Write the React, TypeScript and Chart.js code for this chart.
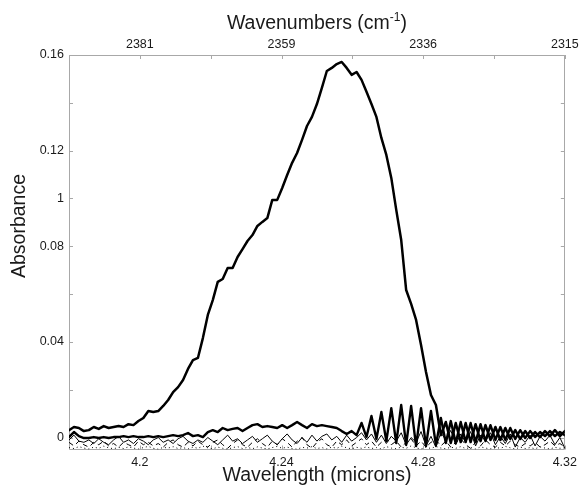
import React, { useEffect, useRef } from "react";
import { Chart, registerables } from "chart.js";

Chart.register(...registerables);

// Wavelength grid (microns)
const wavelength = [
  4.18, 4.1814, 4.1828, 4.1842, 4.1856, 4.187, 4.1884, 4.1898, 4.1912, 4.1926,
  4.194, 4.1954, 4.1968, 4.1982, 4.1996, 4.201, 4.2024, 4.2038, 4.2052, 4.2066,
  4.208, 4.2094, 4.2108, 4.2122, 4.2136, 4.215, 4.2164, 4.2178, 4.2192, 4.2206,
  4.222, 4.2234, 4.2248, 4.2262, 4.2276, 4.229, 4.2304, 4.2318, 4.2332, 4.2346,
  4.236, 4.2374, 4.2388, 4.2402, 4.2416, 4.243, 4.2444, 4.2458, 4.2472, 4.2486,
  4.25, 4.2514, 4.2528, 4.2542, 4.2556, 4.257, 4.2584, 4.2598, 4.2612, 4.2626,
  4.264, 4.2654, 4.2668, 4.2682, 4.2696, 4.271, 4.2724, 4.2738, 4.2752, 4.2766,
  4.278, 4.2794, 4.2808, 4.2822, 4.2836, 4.285, 4.2864, 4.2878, 4.2892, 4.2906,
  4.292, 4.2934, 4.2948, 4.2962, 4.2976, 4.299, 4.3004, 4.3018, 4.3032, 4.3046,
  4.306, 4.3074, 4.3088, 4.3102, 4.3116, 4.313, 4.3144, 4.3158, 4.3172, 4.3186,
  4.32,
];

// Main absorption band (thick)
const peakAbsorbance = [
  0.0031, 0.0044, 0.004, 0.0027, 0.0031, 0.0044, 0.0036, 0.0048, 0.004, 0.0044,
  0.0048, 0.0044, 0.0056, 0.0052, 0.0069, 0.0082, 0.0111, 0.0107, 0.0111, 0.0132,
  0.0157, 0.019, 0.0211, 0.0241, 0.0287, 0.0324, 0.0333, 0.0416, 0.0513, 0.0575,
  0.0651, 0.0663, 0.0709, 0.0709, 0.0755, 0.0788, 0.0822, 0.0847, 0.0885, 0.0902,
  0.0918, 0.0994, 0.0994, 0.1044, 0.1098, 0.1149, 0.119, 0.1245, 0.1303, 0.1341,
  0.1395, 0.1462, 0.1533, 0.1546, 0.1562, 0.1571, 0.1546, 0.1517, 0.1529, 0.1496,
  0.1446, 0.1395, 0.1341, 0.1253, 0.1182, 0.1086, 0.0952, 0.0826, 0.0617, 0.0559,
  0.0492, 0.0387, 0.0274, 0.0178, 0.0136, 0.001, 0.0065, -0.0023, 0.0061, -0.0019,
  0.0061, -0.0019, 0.0056, -0.0015, 0.0052, -0.001, 0.0044, -0.001, 0.004, -0.0006,
  0.0031, -0.0006, 0.0027, -0.0002, 0.0023, 0.0002, 0.0027, 0.0006, 0.0031, 0.0006,
  0.0027,
];

// Thick baseline with line structure
const baselineThick = [
  0.0002, 0.0023, 0.0006, -0.0002, -0.0002, 0.0002, -0.0002, 0.0002, -0.0002, 0.0002,
  0.0002, 0.0006, 0.0002, 0.0006, 0.0002, 0.0002, 0.0006, 0.0002, 0.0006, 0.0002,
  0.0006, 0.001, 0.0006, 0.001, 0.0019, 0.0006, 0.001, 0.0002, 0.0023, 0.0031,
  0.0023, 0.004, 0.0031, 0.0036, 0.004, 0.0027, 0.004, 0.0052, 0.0056, 0.0044,
  0.0048, 0.0044, 0.004, 0.0052, 0.004, 0.0052, 0.0065, 0.0052, 0.004, 0.0056,
  0.0048, 0.0052, 0.0048, 0.0044, 0.004, 0.0027, 0.0015, 0.0027, 0.001, 0.0061,
  0.0002, 0.009, -0.0006, 0.0107, -0.0015, 0.0123, -0.0023, 0.0136, -0.0031, 0.0132,
  -0.0036, 0.0123, -0.0036, 0.0111, -0.0031, 0.0082, -0.0023, 0.0069, -0.0023, 0.0065,
  -0.0019, 0.0061, -0.0019, 0.0056, -0.0015, 0.0052, -0.001, 0.0044, -0.001, 0.004,
  -0.0006, 0.0031, -0.0002, 0.0027, 0.0002, 0.0023, 0.0006, 0.0027, 0.0006, 0.0023,
  0.001,
];

// Thin solid baseline
const baselineThin = [
  -0.001, 0.001, -0.0015, -0.002, -0.001, -0.0025, -0.0005, -0.002, -0.003, -0.001,
  0.0005, -0.002, -0.001, -0.0025, -0.0005, -0.0015, -0.003, -0.001, 0.0, -0.002,
  -0.001, -0.0025, -0.0005, 0.0005, -0.0015, -0.0025, -0.001, -0.002, 0.0, -0.0015,
  -0.003, -0.001, 0.001, -0.0015, -0.0005, -0.0025, -0.001, 0.0005, -0.002, -0.0005,
  0.001, -0.0015, -0.003, -0.0005, 0.0015, -0.001, -0.0025, 0.0, -0.002, 0.001,
  -0.0015, 0.0005, 0.0015, -0.001, 0.0005, -0.002, 0.001, -0.0015, 0.0, 0.002,
  -0.001, 0.0015, -0.002, 0.001, -0.0025, 0.0005, -0.0015, 0.002, -0.003, 0.0,
  -0.002, 0.0025, -0.0035, 0.0005, -0.004, 0.002, -0.001, 0.003, -0.003, 0.0015,
  -0.002, 0.0025, -0.0035, 0.001, -0.0015, 0.002, -0.003, 0.0005, -0.0025, 0.0015,
  -0.004, 0.0, -0.002, 0.001, -0.0035, 0.0005, -0.0015, 0.001, -0.003, 0.0,
  -0.0045,
];

// Thin dashed baseline
const baselineDashed = [
  -0.002, -0.0035, -0.0015, -0.003, -0.004, -0.002, -0.003, -0.0015, -0.0035, -0.0025,
  -0.004, -0.002, -0.003, -0.004, -0.0015, -0.003, -0.002, -0.0035, -0.0025, -0.004,
  -0.002, -0.001, -0.003, -0.004, -0.002, -0.0035, -0.0015, -0.003, -0.004, -0.002,
  -0.001, -0.003, -0.0045, -0.0025, -0.001, -0.003, -0.004, -0.002, -0.0005, -0.0025,
  -0.004, -0.0015, -0.003, -0.0005, -0.002, -0.004, -0.0015, 0.0, -0.003, -0.0045,
  -0.002, -0.0005, -0.003, -0.004, -0.0015, -0.003, -0.001, -0.0035, -0.002, -0.0005,
  -0.003, -0.0015, -0.004, -0.002, -0.0005, -0.003, -0.0015, -0.004, -0.002, -0.0005,
  -0.0035, -0.0015, -0.004, -0.002, -0.001, -0.0035, -0.0015, -0.004, -0.002, -0.0005,
  -0.003, -0.0045, -0.002, -0.0035, -0.001, -0.003, -0.004, -0.002, -0.0035, -0.0015,
  -0.003, -0.004, -0.0025, -0.0035, -0.002, -0.004, -0.003, -0.0015, -0.0035, -0.0025,
  -0.004,
];

// Thin dotted baseline
const baselineDotted = [
  -0.0042, -0.0046, -0.0038, -0.0044, -0.0048, -0.004, -0.0045, -0.0036, -0.0043, -0.0047,
  -0.0041, -0.0046, -0.0039, -0.0044, -0.0048, -0.0042, -0.0037, -0.0045, -0.0049, -0.0041,
  -0.0044, -0.0038, -0.0046, -0.0042, -0.0048, -0.004, -0.0045, -0.0036, -0.0043, -0.0047,
  -0.004, -0.0045, -0.0049, -0.0042, -0.0038, -0.0046, -0.0041, -0.0047, -0.0039, -0.0044,
  -0.0048, -0.0042, -0.0037, -0.0045, -0.004, -0.0046, -0.0049, -0.0041, -0.0044, -0.0038,
  -0.0046, -0.0042, -0.0048, -0.004, -0.0045, -0.0036, -0.0043, -0.0047, -0.0041, -0.0045,
  -0.0039, -0.0046, -0.0042, -0.0048, -0.0038, -0.0044, -0.0047, -0.004, -0.0045, -0.0035,
  -0.0043, -0.0048, -0.004, -0.0046, -0.0037, -0.0044, -0.0047, -0.004, -0.0045, -0.0038,
  -0.0046, -0.0042, -0.0048, -0.0039, -0.0044, -0.0047, -0.0041, -0.0045, -0.0037, -0.0043,
  -0.0048, -0.004, -0.0046, -0.0042, -0.0047, -0.0039, -0.0044, -0.0048, -0.0041, -0.0045,
  -0.0043,
];

// Axes
const xMin = 4.18;
const xMax = 4.32;
const yMin = -0.005;
const yMax = 0.16;
const bottomTicks = [4.2, 4.24, 4.28, 4.32];
const bottomTickLabels = ["4.2", "4.24", "4.28", "4.32"];
const topTickLabels = ["2381", "2359", "2336", "2315"];
const xMinorTicks = [4.22, 4.26, 4.3];
const yTicks = [0, 0.04, 0.08, 0.1, 0.12, 0.16];
const yTickLabels = ["0", "0.04", "0.08", "1", "0.12", "0.16"];
const yMinorTicks = [0.02, 0.06, 0.14];

const FONT = "'Liberation Sans', Arial, Helvetica, sans-serif";
const AXIS_COLOR = "#a8a8a8";
const TEXT_COLOR = "#1a1a1a";

const framePlugin = {
  id: "frame",
  beforeDatasetsDraw(chart: any) {
    const { ctx, chartArea: a, scales } = chart;
    const xs = scales.x;
    const ys = scales.y;
    ctx.save();
    ctx.strokeStyle = AXIS_COLOR;
    ctx.lineWidth = 1;
    ctx.beginPath();
    ctx.rect(Math.round(a.left) + 0.5, Math.round(a.top) + 0.5, Math.round(a.right - a.left) - 1, Math.round(a.bottom - a.top) - 1);
    ctx.stroke();
    const tl = 4;
    ctx.beginPath();
    [...bottomTicks, ...xMinorTicks].forEach((v) => {
      const px = Math.round(xs.getPixelForValue(v)) + 0.5;
      ctx.moveTo(px, a.top);
      ctx.lineTo(px, a.top + tl);
      ctx.moveTo(px, a.bottom);
      ctx.lineTo(px, a.bottom - tl);
    });
    [...yTicks, ...yMinorTicks].forEach((v) => {
      const py = Math.round(ys.getPixelForValue(v)) + 0.5;
      ctx.moveTo(a.left, py);
      ctx.lineTo(a.left + tl, py);
      ctx.moveTo(a.right, py);
      ctx.lineTo(a.right - tl, py);
    });
    ctx.stroke();
    ctx.restore();
  },
  afterDraw(chart: any) {
    const { ctx, chartArea: a } = chart;
    const cx = (a.left + a.right) / 2;
    ctx.save();
    ctx.fillStyle = TEXT_COLOR;
    ctx.textBaseline = "middle";
    const mainFont = `19.5px ${FONT}`;
    const supFont = `12px ${FONT}`;
    const t1 = "Wavenumbers (cm";
    const sup = "-1";
    const t2 = ")";
    ctx.font = mainFont;
    const w1 = ctx.measureText(t1).width;
    const w3 = ctx.measureText(t2).width;
    ctx.font = supFont;
    const w2 = ctx.measureText(sup).width;
    let x = cx - (w1 + w2 + w3) / 2;
    const ty = 24;
    ctx.textAlign = "left";
    ctx.font = mainFont;
    ctx.fillText(t1, x, ty);
    x += w1;
    ctx.font = supFont;
    ctx.fillText(sup, x, ty - 6);
    x += w2;
    ctx.font = mainFont;
    ctx.fillText(t2, x, ty);
    ctx.textAlign = "center";
    ctx.fillText("Wavelength (microns)", cx, 476);
    ctx.translate(20, 226);
    ctx.rotate(-Math.PI / 2);
    ctx.fillText("Absorbance", 0, 0);
    ctx.restore();
  },
};

export default function App() {
  const ref = useRef<HTMLCanvasElement>(null);
  useEffect(() => {
    if (!ref.current) return;
    const mk = (arr: number[]) => wavelength.map((x, i) => ({ x, y: arr[i] }));
    const tickFont = { family: FONT, size: 12.5 };
    const common = { borderColor: "#000", pointRadius: 0, tension: 0, borderJoinStyle: "round", borderCapStyle: "round" };
    const chart = new Chart(ref.current, {
      type: "line",
      data: {
        datasets: [
          { ...common, data: mk(baselineDotted), borderWidth: 1, borderDash: [1, 3], borderCapStyle: "butt" },
          { ...common, data: mk(baselineDashed), borderWidth: 1, borderDash: [5, 4], borderCapStyle: "butt" },
          { ...common, data: mk(baselineThin), borderWidth: 1 },
          { ...common, data: mk(baselineThick), borderWidth: 2.4 },
          { ...common, data: mk(peakAbsorbance), borderWidth: 2.5 },
        ],
      },
      options: {
        responsive: false,
        animation: false,
        layout: { padding: { left: 0, right: 12, top: 0, bottom: 0 } },
        plugins: { legend: { display: false }, tooltip: { enabled: false } },
        scales: {
          x: {
            type: "linear",
            position: "bottom",
            min: xMin,
            max: xMax,
            grid: { display: false, drawTicks: false },
            border: { display: false },
            afterBuildTicks: (s: any) => {
              s.ticks = bottomTicks.map((v) => ({ value: v }));
            },
            ticks: {
              font: tickFont,
              color: TEXT_COLOR,
              padding: 6,
              maxRotation: 0,
              autoSkip: false,
              callback: (_v: any, i: number) => bottomTickLabels[i],
            },
            afterFit: (s: any) => {
              s.height = 39.5;
            },
          },
          x2: {
            type: "linear",
            position: "top",
            min: xMin,
            max: xMax,
            grid: { display: false, drawTicks: false },
            border: { display: false },
            afterBuildTicks: (s: any) => {
              s.ticks = bottomTicks.map((v) => ({ value: v }));
            },
            ticks: {
              font: tickFont,
              color: TEXT_COLOR,
              padding: 3,
              maxRotation: 0,
              autoSkip: false,
              callback: (_v: any, i: number) => topTickLabels[i],
            },
            afterFit: (s: any) => {
              s.height = 55;
            },
          },
          y: {
            type: "linear",
            min: yMin,
            max: yMax,
            grid: { display: false, drawTicks: false },
            border: { display: false },
            afterBuildTicks: (s: any) => {
              s.ticks = yTicks.map((v) => ({ value: v }));
            },
            ticks: {
              font: tickFont,
              color: TEXT_COLOR,
              padding: 5,
              autoSkip: false,
              callback: (_v: any, i: number) => yTickLabels[i],
            },
            afterFit: (s: any) => {
              s.width = 69;
            },
          },
        },
      },
      plugins: [framePlugin],
    } as any);
    return () => chart.destroy();
  }, []);
  return (
    <div style={{ position: "absolute", left: 0, top: 0, width: 583, height: 489, background: "#fff" }}>
      <canvas ref={ref} width={583} height={489} style={{ display: "block", width: 583, height: 489 }} />
    </div>
  );
}
